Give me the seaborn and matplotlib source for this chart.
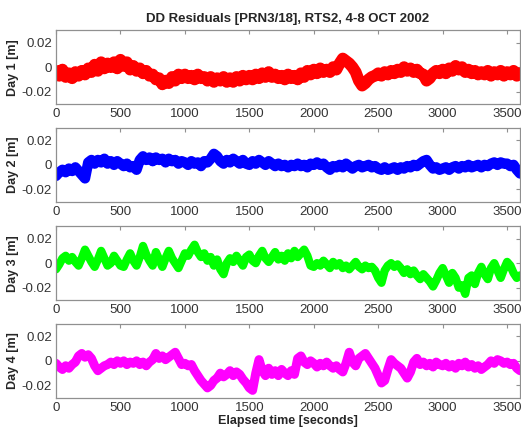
import numpy as np
import pandas as pd
import seaborn as sns
import matplotlib.pyplot as plt

# sample times [s], one value every 25 s
elapsed = np.arange(0, 3601, 25)

day1 = [
    -0.003, -0.007, -0.002, -0.008, -0.005, -0.009, -0.004, -0.007, -0.003, -0.006,
    -0.001, -0.004, 0.002, -0.003, 0.004, -0.001, 0.003, 0.000, 0.004, -0.001,
    0.006, 0.001, 0.004, -0.002, 0.001, -0.003, -0.001, -0.005, -0.003, -0.007,
    -0.006, -0.010, -0.009, -0.014, -0.011, -0.013, -0.008, -0.011, -0.006, -0.009,
    -0.006, -0.009, -0.007, -0.010, -0.006, -0.009, -0.008, -0.011, -0.008, -0.012,
    -0.009, -0.011, -0.008, -0.012, -0.009, -0.012, -0.008, -0.011, -0.007, -0.010,
    -0.007, -0.010, -0.006, -0.009, -0.005, -0.008, -0.004, -0.008, -0.006, -0.009,
    -0.007, -0.010, -0.006, -0.009, -0.007, -0.010, -0.005, -0.008, -0.003, -0.006,
    -0.002, -0.005, -0.001, -0.004, -0.002, -0.004, 0.000, -0.002, 0.003, 0.007,
    0.005, 0.003, 0.000, -0.004, -0.011, -0.015, -0.013, -0.010, -0.008, -0.007,
    -0.005, -0.007, -0.004, -0.006, -0.003, -0.005, -0.002, -0.004, 0.000, -0.003,
    -0.001, -0.004, -0.002, -0.005, -0.006, -0.011, -0.009, -0.005, -0.003, -0.005,
    -0.002, -0.005, -0.001, -0.003, 0.001, -0.002, 0.000, -0.004, -0.002, -0.005,
    -0.003, -0.006, -0.004, -0.006, -0.003, -0.007, -0.004, -0.006, -0.003, -0.007,
    -0.004, -0.006, -0.003, -0.007, -0.005,
]

day2 = [
    -0.009, -0.006, -0.004, -0.006, -0.003, -0.005, -0.002, -0.005, -0.008, -0.011,
    0.002, 0.004, 0.001, 0.004, 0.002, 0.005, 0.001, 0.003, 0.000, 0.003,
    0.001, -0.001, 0.001, -0.002, -0.001, -0.004, 0.004, 0.007, 0.004, 0.006,
    0.003, 0.006, 0.004, 0.005, 0.002, 0.005, 0.003, 0.004, 0.001, 0.003,
    0.002, 0.000, 0.003, 0.001, 0.002, -0.001, 0.003, 0.002, 0.005, 0.009,
    0.007, 0.003, 0.001, 0.004, 0.002, 0.005, 0.003, 0.001, 0.004, 0.001,
    0.000, 0.003, 0.001, 0.004, 0.002, 0.000, 0.003, 0.001, -0.001, 0.001,
    -0.001, 0.000, -0.002, 0.000, -0.001, 0.001, -0.001, 0.000, -0.002, 0.001,
    0.000, 0.002, 0.000, 0.001, -0.002, -0.004, -0.001, -0.002, 0.000, -0.002,
    0.001, -0.001, -0.003, -0.001, 0.000, -0.002, -0.001, 0.000, -0.002, -0.001,
    -0.003, -0.004, -0.002, -0.004, -0.003, -0.002, -0.004, -0.002, -0.003, -0.001,
    -0.002, 0.000, -0.001, 0.001, 0.003, 0.004, 0.000, -0.003, -0.002, -0.004,
    -0.003, -0.002, -0.004, -0.002, -0.001, -0.003, -0.001, -0.002, 0.000, -0.002,
    -0.001, 0.000, -0.002, 0.000, -0.001, 0.001, 0.002, 0.000, 0.002, 0.001,
    0.001, -0.001, 0.000, -0.004, -0.007,
]

day3 = [
    -0.005, -0.001, 0.004, 0.006, 0.002, 0.005, 0.001, -0.002, 0.004, 0.011,
    0.006, 0.001, -0.003, 0.003, 0.010, 0.004, -0.002, 0.000, 0.006, 0.002,
    -0.002, -0.003, 0.003, 0.008, 0.002, -0.002, 0.005, 0.014, 0.007, 0.002,
    -0.002, 0.009, 0.003, -0.003, 0.004, 0.010, 0.004, 0.000, -0.004, 0.002,
    0.008, 0.006, 0.011, 0.015, 0.009, 0.005, 0.008, 0.002, 0.005, -0.002,
    0.003, -0.005, -0.009, 0.000, 0.004, 0.001, 0.006, 0.002, -0.002, 0.005,
    0.007, 0.002, 0.000, 0.006, 0.010, 0.004, 0.001, 0.005, 0.009, 0.003,
    0.006, 0.002, 0.008, 0.004, 0.010, 0.005, 0.008, 0.011, 0.006, -0.002,
    -0.003, 0.000, -0.002, 0.002, -0.001, -0.004, 0.001, -0.002, 0.000, -0.004,
    -0.002, -0.005, -0.002, 0.001, -0.003, -0.005, -0.002, -0.004, -0.003, -0.006,
    -0.012, -0.016, -0.006, -0.002, 0.000, -0.003, -0.001, -0.004, -0.008, -0.005,
    -0.009, -0.006, -0.010, -0.013, -0.009, -0.012, -0.015, -0.019, -0.014, -0.008,
    -0.004, -0.010, -0.016, -0.008, -0.012, -0.020, -0.018, -0.025, -0.012, -0.010,
    -0.017, -0.008, -0.003, -0.009, -0.013, -0.004, 0.000, -0.006, -0.012, -0.005,
    0.001, -0.002, -0.008, -0.012, -0.010,
]

day4 = [
    -0.002, -0.005, -0.007, -0.004, -0.006, -0.003, -0.001, 0.004, 0.006, 0.003,
    0.005, 0.002, -0.004, -0.008, -0.006, -0.004, -0.003, -0.001, -0.003, 0.000,
    -0.002, 0.000, -0.003, -0.001, -0.002, 0.000, -0.003, -0.001, -0.004, -0.001,
    0.001, 0.006, 0.002, 0.004, 0.001, 0.003, 0.005, 0.007, 0.002, -0.003,
    -0.002, -0.004, -0.003, -0.008, -0.012, -0.016, -0.019, -0.022, -0.020, -0.016,
    -0.014, -0.010, -0.013, -0.011, -0.008, -0.012, -0.009, -0.011, -0.015, -0.018,
    -0.022, -0.024, -0.010, 0.001, -0.008, -0.012, -0.006, -0.011, -0.008, -0.012,
    -0.007, -0.010, -0.012, -0.008, -0.011, 0.002, 0.004, -0.001, -0.003, 0.000,
    -0.002, -0.005, -0.002, -0.004, -0.001, -0.004, -0.006, -0.004, -0.007, -0.009,
    -0.002, 0.007, -0.001, -0.004, 0.002, 0.004, 0.006, 0.002, -0.002, -0.006,
    -0.012, -0.018, -0.016, -0.007, 0.001, -0.002, -0.004, -0.006, -0.010, -0.014,
    -0.009, -0.001, 0.002, -0.003, -0.001, -0.004, -0.002, -0.005, -0.001, -0.003,
    -0.004, -0.002, -0.005, -0.003, -0.006, -0.002, -0.004, -0.001, -0.005, -0.003,
    -0.006, -0.004, -0.007, -0.005, -0.003, 0.000, -0.002, 0.001, 0.000, -0.002,
    -0.001, -0.003, -0.002, -0.006, -0.008,
]

day_labels = ["Day 1 [m]", "Day 2 [m]", "Day 3 [m]", "Day 4 [m]"]
day_colors = ["#ff0000", "#0000ff", "#00ff00", "#ff00ff"]
x_ticks = [0, 500, 1000, 1500, 2000, 2500, 3000, 3500]
y_ticks = [-0.02, 0, 0.02]
y_ticklabels = ["-0.02", "0", "0.02"]


def main():
    sns.set_style("white")
    plt.rcParams["font.family"] = ["Liberation Sans", "DejaVu Sans"]

    fig = plt.figure(figsize=(5.21, 4.32), dpi=100)
    bottoms = [0.7593, 0.5331, 0.3056, 0.0794]
    widths = [8.5, 7.5, 6.0, 6.5]  # thickness of the noisy band per day
    series = [day1, day2, day3, day4]

    for i, (vals, lab, col) in enumerate(zip(series, day_labels, day_colors)):
        ax = fig.add_axes([0.1075, bottoms[i], 0.8906, 0.1705])
        df = pd.DataFrame({"t": elapsed, "v": vals})
        sns.lineplot(data=df, x="t", y="v", color=col, lw=widths[i], ax=ax)
        ax.set_xlim(0, 3600)
        ax.set_ylim(-0.03, 0.03)
        ax.set_xticks(x_ticks)
        ax.set_yticks(y_ticks)
        ax.set_yticklabels(y_ticklabels)
        ax.tick_params(direction="in", top=True, right=True, length=3,
                       labelsize=9.5, colors="#909090", labelcolor="#333333", pad=3)
        for sp in ax.spines.values():
            sp.set_color("#909090")
            sp.set_linewidth(0.9)
        ax.set_ylabel(lab, fontsize=9, fontweight="bold", labelpad=2)
        ax.set_xlabel("")
        if i == 0:
            ax.set_title("DD Residuals [PRN3/18], RTS2, 4-8 OCT 2002",
                         fontsize=9.5, fontweight="bold", pad=6)
        if i == 3:
            ax.set_xlabel("Elapsed time [seconds]", fontsize=9, fontweight="bold", labelpad=1)

    fig.savefig("out.png", dpi=100, facecolor="white")


if __name__ == "__main__":
    main()
